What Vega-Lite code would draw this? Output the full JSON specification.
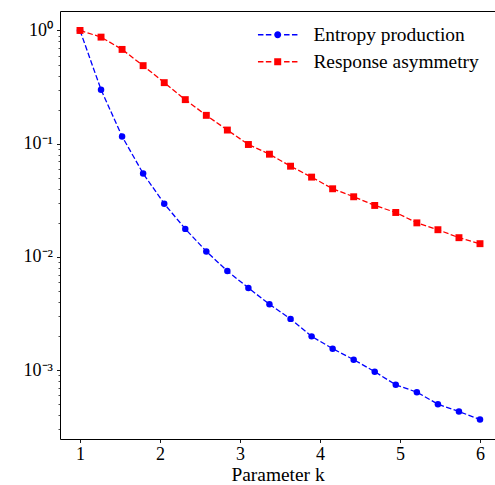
{
  "$schema": "https://vega.github.io/schema/vega-lite/v6.json",
  "width": 435,
  "height": 428,
  "autosize": "none",
  "padding": {"left": 60, "top": 11, "right": 0, "bottom": 46},
  "config": {
    "view": {"stroke": null},
    "font": "Liberation Serif",
    "axis": {"grid": false, "labelFont": "Liberation Serif", "titleFont": "Liberation Serif", "domainColor": "#000000", "tickColor": "#000000", "labelColor": "#000000", "titleColor": "#000000", "domainWidth": 1, "tickWidth": 0.9},
    "legend": {"labelFont": "Liberation Serif"}
  },
  "data": {
    "values": [
      {"k": 1.0, "value": 1.0, "series": "Entropy production"},
      {"k": 1.263, "value": 0.30, "series": "Entropy production"},
      {"k": 1.526, "value": 0.116, "series": "Entropy production"},
      {"k": 1.789, "value": 0.0546, "series": "Entropy production"},
      {"k": 2.053, "value": 0.0295, "series": "Entropy production"},
      {"k": 2.316, "value": 0.0177, "series": "Entropy production"},
      {"k": 2.579, "value": 0.0112, "series": "Entropy production"},
      {"k": 2.842, "value": 0.0075, "series": "Entropy production"},
      {"k": 3.105, "value": 0.00533, "series": "Entropy production"},
      {"k": 3.368, "value": 0.00382, "series": "Entropy production"},
      {"k": 3.632, "value": 0.00284, "series": "Entropy production"},
      {"k": 3.895, "value": 0.00199, "series": "Entropy production"},
      {"k": 4.158, "value": 0.00155, "series": "Entropy production"},
      {"k": 4.421, "value": 0.00124, "series": "Entropy production"},
      {"k": 4.684, "value": 0.00097, "series": "Entropy production"},
      {"k": 4.947, "value": 0.000744, "series": "Entropy production"},
      {"k": 5.211, "value": 0.00064, "series": "Entropy production"},
      {"k": 5.474, "value": 0.000501, "series": "Entropy production"},
      {"k": 5.737, "value": 0.000432, "series": "Entropy production"},
      {"k": 6.0, "value": 0.000367, "series": "Entropy production"},
      {"k": 1.0, "value": 1.0, "series": "Response asymmetry"},
      {"k": 1.263, "value": 0.873, "series": "Response asymmetry"},
      {"k": 1.526, "value": 0.68, "series": "Response asymmetry"},
      {"k": 1.789, "value": 0.489, "series": "Response asymmetry"},
      {"k": 2.053, "value": 0.346, "series": "Response asymmetry"},
      {"k": 2.316, "value": 0.245, "series": "Response asymmetry"},
      {"k": 2.579, "value": 0.178, "series": "Response asymmetry"},
      {"k": 2.842, "value": 0.132, "series": "Response asymmetry"},
      {"k": 3.105, "value": 0.0984, "series": "Response asymmetry"},
      {"k": 3.368, "value": 0.0808, "series": "Response asymmetry"},
      {"k": 3.632, "value": 0.0633, "series": "Response asymmetry"},
      {"k": 3.895, "value": 0.0507, "series": "Response asymmetry"},
      {"k": 4.158, "value": 0.040, "series": "Response asymmetry"},
      {"k": 4.421, "value": 0.034, "series": "Response asymmetry"},
      {"k": 4.684, "value": 0.0285, "series": "Response asymmetry"},
      {"k": 4.947, "value": 0.0247, "series": "Response asymmetry"},
      {"k": 5.211, "value": 0.020, "series": "Response asymmetry"},
      {"k": 5.474, "value": 0.0174, "series": "Response asymmetry"},
      {"k": 5.737, "value": 0.0148, "series": "Response asymmetry"},
      {"k": 6.0, "value": 0.0131, "series": "Response asymmetry"}
    ]
  },
  "layer": [
    {
      "mark": {"type": "line", "strokeDash": [5.5, 2.4], "strokeWidth": 1.3},
      "encoding": {
        "x": {
          "field": "k", "type": "quantitative",
          "scale": {"domain": [0.75, 6.1875], "nice": false, "zero": false},
          "axis": {"orient": "bottom", "values": [1, 2, 3, 4, 5, 6], "tickSize": 3.5, "labelFont": "Liberation Serif", "labelFontSize": 18, "labelPadding": 3, "labelFlush": false, "title": "Parameter k", "titleFont": "Liberation Serif", "titleFontSize": 19.4, "titleFontWeight": "normal", "titlePadding": 2}
        },
        "y": {
          "field": "value", "type": "quantitative",
          "scale": {"type": "log", "domain": [0.000247, 1.485], "nice": false},
          "axis": {"orient": "left", "values": [0.001, 0.01, 0.1, 1], "tickSize": 3.5, "labelFont": "Liberation Serif", "labelFontSize": 18, "labelPadding": 4, "labelFlush": false, "labelExpr": "datum.value >= 0.5 ? '10⁰' : datum.value >= 0.05 ? '10⁻¹' : datum.value >= 0.005 ? '10⁻²' : '10⁻³'", "title": null}
        },
        "color": {
          "field": "series", "type": "nominal",
          "scale": {"domain": ["Entropy production", "Response asymmetry"], "range": ["#0000ff", "#ff0000"]},
          "legend": {
            "orient": "none", "legendX": 208, "legendY": 14, "title": null,
            "padding": 0, "symbolSize": 100, "rowPadding": 6, "labelOffset": 26,
            "labelFont": "Liberation Serif", "labelFontSize": 19.4, "labelColor": "#000000", "labelLimit": 300,
            "symbolStrokeWidth": 0, "symbolOpacity": 1,
            "encode": {
              "symbols": {
                "update": {
                  "shape": {"signal": "datum.value === 'Entropy production' ? 'M-3.95,-0.14H-2.85V0.14H-3.95Z M-2.37,-0.14H-1.27V0.14H-2.37Z M1.27,-0.14H2.37V0.14H1.27Z M2.85,-0.14H3.95V0.14H2.85Z M-0.7,0A0.7,0.7 0 1,0 0.7,0A0.7,0.7 0 1,0 -0.7,0Z' : 'M-3.95,-0.14H-2.85V0.14H-3.95Z M-2.37,-0.14H-1.27V0.14H-2.37Z M1.27,-0.14H2.37V0.14H1.27Z M2.85,-0.14H3.95V0.14H2.85Z M-0.7,-0.7H0.7V0.7H-0.7Z'"},
                  "fill": {"signal": "datum.value === 'Entropy production' ? '#0000ff' : '#ff0000'"},
                  "strokeWidth": {"value": 0},
                  "opacity": {"value": 1}
                }
              }
            }
          }
        }
      }
    },
    {
      "transform": [{"filter": "datum.series === 'Entropy production'"}],
      "mark": {"type": "point", "filled": true, "opacity": 1, "size": 42, "shape": "circle"},
      "encoding": {
        "x": {
          "field": "k", "type": "quantitative",
          "axis": {"orient": "top", "ticks": false, "labels": false, "domain": true, "title": null}
        },
        "y": {
          "field": "value", "type": "quantitative",
          "axis": {"orient": "left", "values": [0.0003, 0.0004, 0.0005, 0.0006, 0.0007, 0.0008, 0.0009, 0.002, 0.003, 0.004, 0.005, 0.006, 0.007, 0.008, 0.009, 0.02, 0.03, 0.04, 0.05, 0.06, 0.07, 0.08, 0.09, 0.2, 0.3, 0.4, 0.5, 0.6, 0.7, 0.8, 0.9], "tickSize": 2, "tickWidth": 0.7, "labels": false, "domain": false, "title": null}
        },
        "color": {"field": "series", "type": "nominal", "legend": null}
      }
    },
    {
      "transform": [{"filter": "datum.series === 'Response asymmetry'"}],
      "mark": {"type": "point", "filled": true, "opacity": 1, "size": 48, "shape": "square"},
      "encoding": {
        "x": {"field": "k", "type": "quantitative", "axis": null},
        "y": {"field": "value", "type": "quantitative", "axis": null},
        "color": {"field": "series", "type": "nominal", "legend": null}
      }
    }
  ],
  "resolve": {"axis": {"x": "independent", "y": "independent"}}
}
